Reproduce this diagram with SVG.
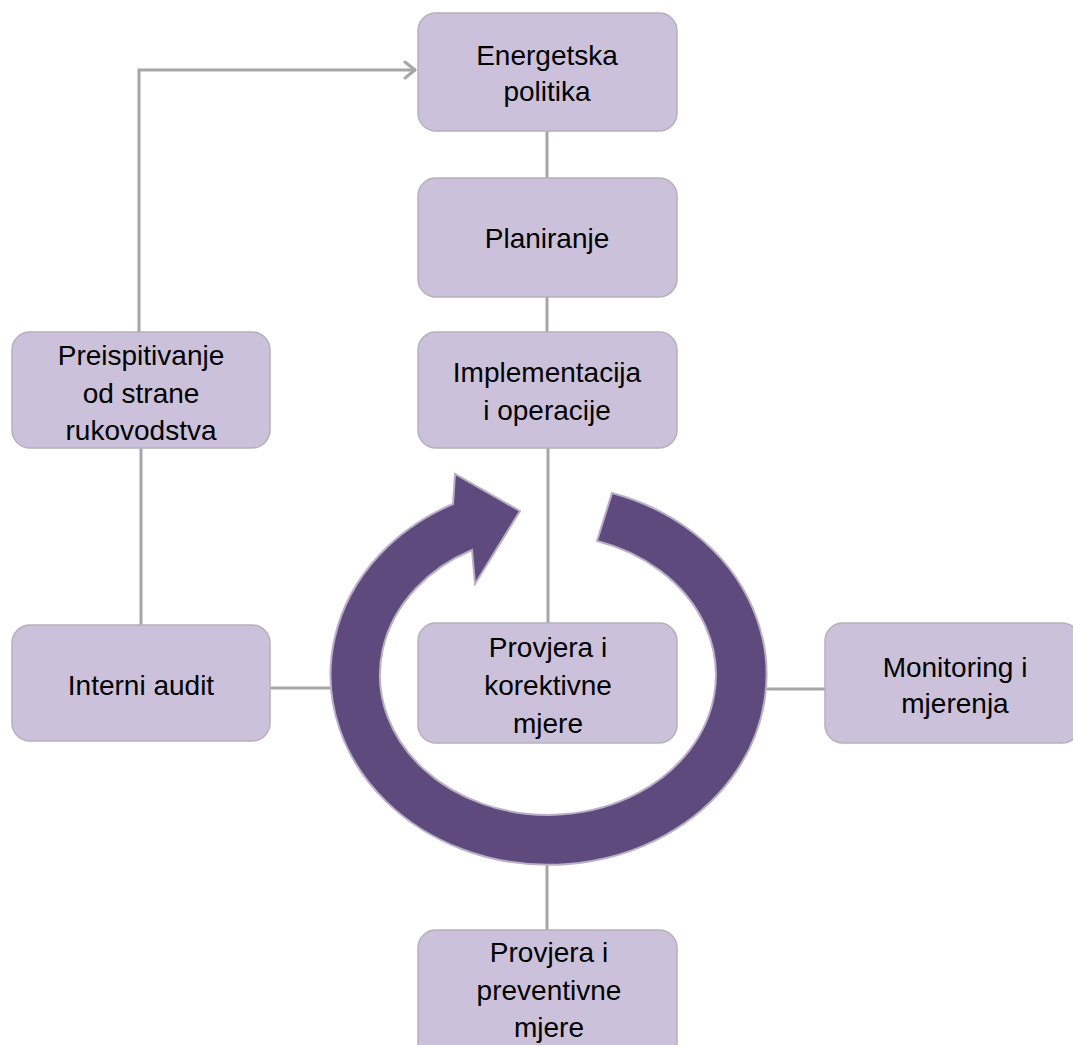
<svg xmlns="http://www.w3.org/2000/svg" width="1073" height="1045" viewBox="0 0 1073 1045">
  <style>
    .box { fill: #ccc1da; stroke: #b5b0bb; stroke-width: 1.5; }
    .lbl { font-family: "Liberation Sans", Arial, sans-serif; font-size: 28px; fill: #000; text-anchor: middle; }
    .conn { fill: none; stroke: #a6a6a6; stroke-width: 3; }
    .ring { fill: #5f4a7e; stroke: #b9b0c8; stroke-width: 2; }
  </style>
  <defs>
    <marker id="open" viewBox="0 0 14 20" refX="13" refY="10" markerWidth="14" markerHeight="20" markerUnits="userSpaceOnUse" orient="auto">
      <path d="M2,2 L12,10 L2,18" fill="none" stroke="#a6a6a6" stroke-width="3" stroke-linecap="round" stroke-linejoin="round"/>
    </marker>
  </defs>
  <rect width="1073" height="1045" fill="#ffffff"/>

  <g id="connectors">
    <path class="conn" d="M139,332 V70 H416" marker-end="url(#open)"/>
    <line class="conn" x1="547" y1="131" x2="547" y2="178"/>
    <line class="conn" x1="547" y1="297" x2="547" y2="332"/>
    <line class="conn" x1="548" y1="448" x2="548" y2="623"/>
    <line class="conn" x1="141" y1="448" x2="141" y2="625"/>
    <line class="conn" x1="270" y1="688" x2="334" y2="688"/>
    <line class="conn" x1="762" y1="689" x2="825" y2="689"/>
    <line class="conn" x1="547" y1="864" x2="547" y2="930"/>
  </g>

  <g id="cycle-arrow">
    <path class="ring" d="M612,493 A218,190 0 1 1 453,504 L455,474 L520,511 L475,584 L472,550 A168,140 0 1 0 597,541 Z"/>
  </g>

  <g id="node-energetska">
    <rect class="box" x="418" y="13" width="259" height="118" rx="18"/>
    <text class="lbl" x="547" y="65">Energetska</text>
    <text class="lbl" x="547" y="101">politika</text>
  </g>
  <g id="node-planiranje">
    <rect class="box" x="418" y="178" width="259" height="119" rx="18"/>
    <text class="lbl" x="547" y="248">Planiranje</text>
  </g>
  <g id="node-implementacija">
    <rect class="box" x="418" y="332" width="259" height="116" rx="18"/>
    <text class="lbl" x="547" y="382">Implementacija</text>
    <text class="lbl" x="547" y="420">i operacije</text>
  </g>
  <g id="node-preispitivanje">
    <rect class="box" x="12" y="332" width="258" height="116" rx="18"/>
    <text class="lbl" x="141" y="365">Preispitivanje</text>
    <text class="lbl" x="141" y="403">od strane</text>
    <text class="lbl" x="141" y="440">rukovodstva</text>
  </g>
  <g id="node-interni-audit">
    <rect class="box" x="12" y="625" width="258" height="116" rx="18"/>
    <text class="lbl" x="141" y="695">Interni audit</text>
  </g>
  <g id="node-korektivne">
    <rect class="box" x="418" y="623" width="259" height="120" rx="18"/>
    <text class="lbl" x="548" y="657">Provjera i</text>
    <text class="lbl" x="548" y="695">korektivne</text>
    <text class="lbl" x="548" y="733">mjere</text>
  </g>
  <g id="node-monitoring">
    <rect class="box" x="825" y="623" width="255" height="120" rx="18"/>
    <text class="lbl" x="955" y="677">Monitoring i</text>
    <text class="lbl" x="955" y="713">mjerenja</text>
  </g>
  <g id="node-preventivne">
    <rect class="box" x="418" y="930" width="259" height="130" rx="18"/>
    <text class="lbl" x="549" y="962">Provjera i</text>
    <text class="lbl" x="549" y="1000">preventivne</text>
    <text class="lbl" x="549" y="1037">mjere</text>
  </g>
</svg>
